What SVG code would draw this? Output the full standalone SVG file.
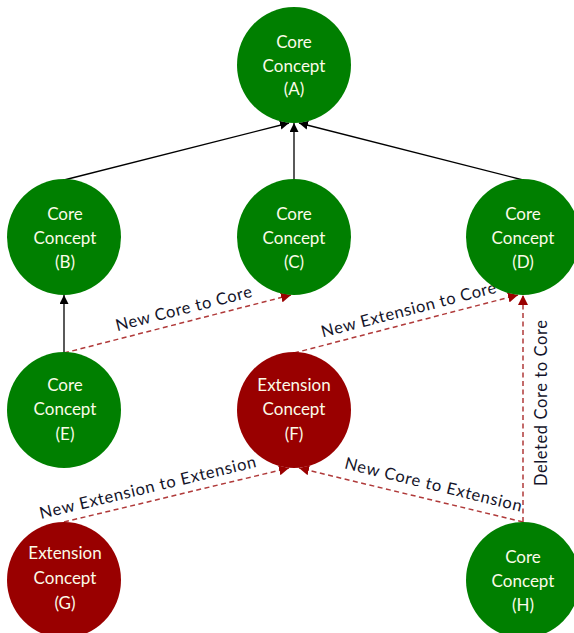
<svg xmlns="http://www.w3.org/2000/svg" width="574" height="633" viewBox="0 0 574 633">
  <style>
    .core { fill: #007f00; }
    .ext { fill: #990000; }
    .nt { font-family: Lato, "Liberation Sans", sans-serif; font-size: 17px; fill: #fbfbe8; text-anchor: middle; }
    .solid { stroke: #000; stroke-width: 1.3; fill: none; marker-end: url(#arrowBlack); }
    .dash { stroke: #b03a3a; stroke-width: 1.5; stroke-dasharray: 5 3.5; fill: none; marker-end: url(#arrowRed); }
    .lbl { font-family: Lato, "Liberation Sans", sans-serif; font-size: 16.5px; fill: #14142a; text-anchor: middle; }
  </style>
  <defs>
    <marker id="arrowBlack" viewBox="0 0 10 10" refX="10" refY="5" markerWidth="9" markerHeight="9" markerUnits="userSpaceOnUse" orient="auto">
      <path d="M0,0 L10,5 L0,10 z" fill="#000"/>
    </marker>
    <marker id="arrowRed" viewBox="0 0 10 10" refX="10" refY="5" markerWidth="10" markerHeight="10" markerUnits="userSpaceOnUse" orient="auto">
      <path d="M0,0 L10,5 L0,10 z" fill="#9a0000"/>
    </marker>
  </defs>

  <!-- connectors -->
  <g id="connectors">
    <line class="solid" x1="64" y1="180" x2="289" y2="123"/>
    <line class="solid" x1="294" y1="180" x2="294" y2="123"/>
    <line class="solid" x1="523" y1="180" x2="299" y2="123"/>
    <line class="solid" x1="64" y1="353" x2="64" y2="295"/>
    <line class="dash" x1="64" y1="353" x2="291" y2="295"/>
    <line class="dash" x1="294" y1="353" x2="518" y2="295"/>
    <line class="dash" x1="523" y1="522" x2="523" y2="295"/>
    <line class="dash" x1="64" y1="522" x2="289" y2="468"/>
    <line class="dash" x1="523" y1="522" x2="299" y2="468"/>
    <text class="lbl" transform="translate(185,314) rotate(-14.3)" textLength="140" lengthAdjust="spacing">New Core to Core</text>
    <text class="lbl" transform="translate(410,315) rotate(-14.5)" textLength="180" lengthAdjust="spacing">New Extension to Core</text>
    <text class="lbl" transform="translate(149,493) rotate(-13.6)" textLength="222" lengthAdjust="spacing">New Extension to Extension</text>
    <text class="lbl" transform="translate(432,490) rotate(13.8)" textLength="182" lengthAdjust="spacing">New Core to Extension</text>
    <text class="lbl" transform="translate(547,403) rotate(-90)" textLength="166" lengthAdjust="spacing">Deleted Core to Core</text>
  </g>

  <!-- nodes -->
  <g id="node-A">
    <ellipse class="core" cx="294" cy="65" rx="57" ry="58"/>
    <text class="nt" x="294" y="48">Core</text>
    <text class="nt" x="294" y="72">Concept</text>
    <text class="nt" x="294" y="95">(A)</text>
  </g>
  <g id="node-B">
    <ellipse class="core" cx="64" cy="237" rx="57" ry="58"/>
    <text class="nt" x="65" y="220">Core</text>
    <text class="nt" x="65" y="244">Concept</text>
    <text class="nt" x="65" y="268">(B)</text>
  </g>
  <g id="node-C">
    <ellipse class="core" cx="294" cy="237" rx="57" ry="58"/>
    <text class="nt" x="294" y="220">Core</text>
    <text class="nt" x="294" y="244">Concept</text>
    <text class="nt" x="294" y="268">(C)</text>
  </g>
  <g id="node-D">
    <ellipse class="core" cx="523" cy="237" rx="57" ry="58"/>
    <text class="nt" x="523" y="220">Core</text>
    <text class="nt" x="523" y="244">Concept</text>
    <text class="nt" x="523" y="268">(D)</text>
  </g>
  <g id="node-E">
    <ellipse class="core" cx="64" cy="410" rx="57" ry="58"/>
    <text class="nt" x="65" y="391">Core</text>
    <text class="nt" x="65" y="415">Concept</text>
    <text class="nt" x="65" y="440">(E)</text>
  </g>
  <g id="node-F">
    <ellipse class="ext" cx="294" cy="410" rx="57" ry="58"/>
    <text class="nt" x="294" y="391">Extension</text>
    <text class="nt" x="294" y="415">Concept</text>
    <text class="nt" x="294" y="440">(F)</text>
  </g>
  <g id="node-G">
    <ellipse class="ext" cx="64" cy="580" rx="57" ry="58"/>
    <text class="nt" x="65" y="559">Extension</text>
    <text class="nt" x="65" y="584">Concept</text>
    <text class="nt" x="65" y="609">(G)</text>
  </g>
  <g id="node-H">
    <ellipse class="core" cx="523" cy="580" rx="57" ry="58"/>
    <text class="nt" x="523" y="563">Core</text>
    <text class="nt" x="523" y="587">Concept</text>
    <text class="nt" x="523" y="611">(H)</text>
  </g>
</svg>
